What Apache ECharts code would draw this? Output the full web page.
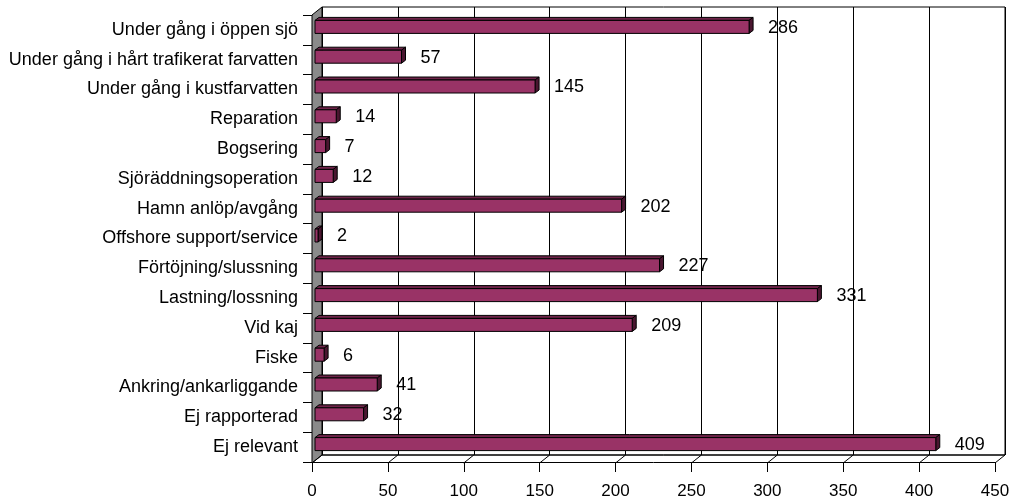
<!DOCTYPE html>
<html>
<head>
<meta charset="utf-8">
<script src="https://cdn.jsdelivr.net/npm/echarts@6/dist/echarts.min.js"></script>
<style>
html,body{margin:0;padding:0;background:#fff;}
#main{width:1013px;height:500px;}
</style>
</head>
<body>
<div id="main"></div>
<script>
const categories = ['Under gång i öppen sjö','Under gång i hårt trafikerat farvatten','Under gång i kustfarvatten','Reparation','Bogsering','Sjöräddningsoperation','Hamn anlöp/avgång','Offshore support/service','Förtöjning/slussning','Lastning/lossning','Vid kaj','Fiske','Ankring/ankarliggande','Ej rapporterad','Ej relevant'];
const values = [286,57,145,14,7,12,202,2,227,331,209,6,41,32,409];
const tickValues = [0,50,100,150,200,250,300,350,400,450];

const FONT = '"Liberation Sans", Arial, sans-serif';
const W = 1013, H = 500;
const front = {left:312, right:18, top:15, bottom:37};
const DEPTH_X = 10, DEPTH_Y = 8;
const back = {left:front.left+DEPTH_X, right:front.right-DEPTH_X, top:front.top-DEPTH_Y, bottom:front.bottom+DEPTH_Y};

const chart = echarts.init(document.getElementById('main'), null, {renderer:'canvas'});

const option = {
  animation:false,
  backgroundColor:'#fff',
  grid:[
    {left:back.left, right:back.right, top:back.top, bottom:back.bottom, show:true, borderColor:'#000', borderWidth:1, backgroundColor:'#fff', z:0},
    {left:front.left, right:front.right, top:front.top, bottom:front.bottom, z:2}
  ],
  xAxis:[
    {gridIndex:0, type:'value', min:0, max:450, interval:50,
     axisLine:{show:false}, axisTick:{show:false}, axisLabel:{show:false},
     splitLine:{show:true, lineStyle:{color:'#000', width:1}}},
    {gridIndex:1, type:'value', min:0, max:450, interval:50,
     axisLine:{show:true, lineStyle:{color:'#000', width:1}},
     axisTick:{show:true, length:10, lineStyle:{color:'#000'}},
     axisLabel:{show:true, color:'#000', fontSize:17, fontFamily:FONT, margin:21},
     splitLine:{show:false}}
  ],
  yAxis:[
    {gridIndex:0, type:'category', data:categories, inverse:true, show:false},
    {gridIndex:1, type:'category', data:categories, inverse:true,
     axisLine:{show:false},
     axisTick:{show:true, length:9, lineStyle:{color:'#000'}},
     axisLabel:{color:'#000', fontSize:18, fontFamily:FONT, margin:14},
     splitLine:{show:false}}
  ],
  series:[{
    type:'custom',
    xAxisIndex:1, yAxisIndex:1,
    z:5,
    encode:{x:0, y:1},
    data: values.map((v,i)=>[v,i]),
    renderItem:function(params, api){
      const v = api.value(0);
      const ci = api.value(1);
      const c0 = api.coord([0, ci]);
      const c1 = api.coord([v, ci]);
      const h = 13, dx = 4, dy = 3, sh = 3;
      const x0 = c0[0] + sh, x1 = c1[0] + sh;
      const yt = c0[1] - sh - h/2, yb = yt + h;
      return {type:'group', children:[
        {type:'polygon', shape:{points:[[x0,yt],[x0+dx,yt-dy],[x1+dx,yt-dy],[x1,yt]]}, style:{fill:'#6e2449', stroke:'#000', lineWidth:1}},
        {type:'polygon', shape:{points:[[x1,yt],[x1+dx,yt-dy],[x1+dx,yb-dy],[x1,yb]]}, style:{fill:'#4a1630', stroke:'#000', lineWidth:1}},
        {type:'rect', shape:{x:x0, y:yt, width:Math.max(x1-x0,0.5), height:h}, style:{fill:'#993366', stroke:'#000', lineWidth:1}},
        {type:'text', style:{text:String(v), x:x1+dx+15, y:yt+h/2+1, verticalAlign:'middle', align:'left', font:'18px '+FONT, fill:'#000'}}
      ]};
    }
  }]
};
chart.setOption(option);

// 3D decorations: left wall and floor depth lines, positioned via the axis scale
const fx0 = front.left, fy0 = front.top, fy1 = H - front.bottom;
const bx1 = W - back.right;
const gfx = [
  {type:'polygon', z:1, shape:{points:[[fx0,fy0],[fx0+DEPTH_X,fy0-DEPTH_Y],[fx0+DEPTH_X,fy1-DEPTH_Y],[fx0,fy1]]}, style:{fill:'#8a8a8a', stroke:'#000', lineWidth:1}},
  {type:'line', z:1, shape:{x1:fx0+DEPTH_X, y1:fy1-DEPTH_Y, x2:bx1, y2:fy1-DEPTH_Y}, style:{stroke:'#000', lineWidth:1}}
];
tickValues.forEach(t=>{
  const px = chart.convertToPixel({xAxisIndex:1}, t);
  gfx.push({type:'line', z:1, shape:{x1:px, y1:fy1, x2:px+DEPTH_X, y2:fy1-DEPTH_Y}, style:{stroke:'#000', lineWidth:1}});
});
chart.setOption({graphic:gfx});
</script>
</body>
</html>
